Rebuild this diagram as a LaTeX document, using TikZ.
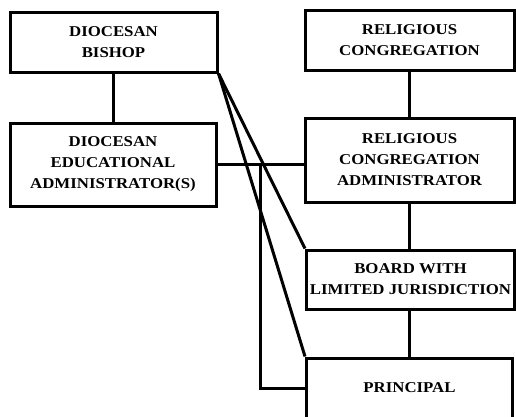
\documentclass[tikz,border=0pt]{standalone}
\usepackage{fontspec}
\setmainfont{Liberation Serif}[FakeStretch=1.12]
\begin{document}
\begin{tikzpicture}[x=1pt,y=-1pt,line width=3pt,
    office/.style={draw,align=center,inner sep=0pt,
      font=\fontsize{15}{21}\selectfont\bfseries}]
    \useasboundingbox (0,0) rectangle (516,416);
    \node[office,minimum width=207,minimum height=60] (bishop) at (113.5,42) {DIOCESAN\\BISHOP};
    \node[office,minimum width=206,minimum height=83] (diocadmin) at (113,164.5) {DIOCESAN\\EDUCATIONAL\\ADMINISTRATOR(S)};
    \node[office,minimum width=209,minimum height=60] (relcong) at (409.5,40) {RELIGIOUS\\CONGREGATION};
    \node[office,minimum width=209,minimum height=84] (relcongadmin) at (409.5,160) {RELIGIOUS\\CONGREGATION\\ADMINISTRATOR};
    \node[office,minimum width=208,minimum height=59] (board) at (410.5,279.5) {BOARD WITH\\LIMITED JURISDICTION};
    \node[office,minimum width=206,minimum height=60] (principal) at (409.5,388) {PRINCIPAL};
    \draw (bishop) -- (bishop |- diocadmin.north);
    \draw (relcong) -- (relcong |- relcongadmin.north);
    \draw (relcong |- relcongadmin.south) -- (relcong |- board.north);
    \draw (relcong |- board.south) -- (relcong |- principal.north);
    \draw (diocadmin.east) -- (diocadmin.east -| relcongadmin.west);
    \coordinate (split) at (260,164.5);
    \draw (split) |- (principal.west);
    \draw (bishop.south east) -- (board.north west);
    \draw (bishop.south east) -- (principal.north west);
\end{tikzpicture}
\end{document}
